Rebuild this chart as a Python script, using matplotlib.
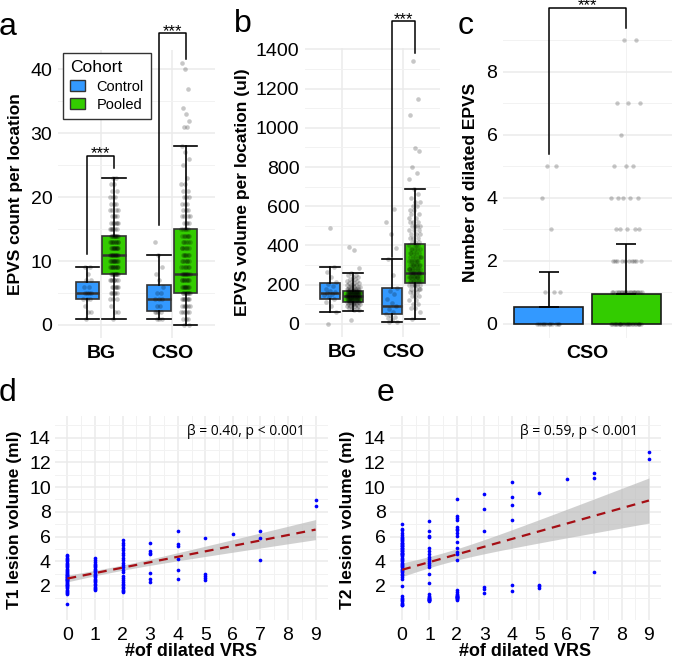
import numpy as np
import matplotlib.pyplot as plt
from matplotlib.patches import Patch

plt.rcParams['font.family'] = ['Liberation Sans', 'DejaVu Sans']

# ---------------- data ----------------
groups = ['BG', 'CSO']
cohorts = ['Control', 'Pooled']
col_ctrl = '#3399FF'
col_pool = '#33CC00'

# a: EPVS count per location  -- box stats [BG, CSO]
cnt_ctrl_whislo = [1, 1]
cnt_ctrl_q1 = [4, 2.25]
cnt_ctrl_med = [5, 4]
cnt_ctrl_q3 = [6.75, 6.25]
cnt_ctrl_whishi = [9, 11]
cnt_pool_whislo = [1, 0]
cnt_pool_q1 = [8, 5]
cnt_pool_med = [11, 8]
cnt_pool_q3 = [14, 15]
cnt_pool_whishi = [23, 28]

cnt_bg_ctrl = [1, 2, 2, 3, 4, 4, 4, 5, 5, 5, 5, 6, 6, 7, 7, 8, 9, 9]
cnt_bg_pool_vals = [1, 2, 3, 4, 5, 6, 7, 8, 9, 10, 11, 12, 13, 14, 15, 16, 17, 18, 19, 20, 21, 22, 23]
cnt_bg_pool_n = [1, 2, 1, 3, 5, 6, 7, 9, 10, 10, 10, 10, 9, 9, 6, 6, 4, 4, 3, 3, 2, 2, 2]
cnt_cso_ctrl = [1, 1, 1, 2, 2, 2, 2, 3, 3, 4, 4, 4, 5, 5, 6, 7, 8, 9, 11, 13]
cnt_cso_pool_vals = [0, 1, 2, 3, 4, 5, 6, 7, 8, 9, 10, 11, 12, 13, 14, 15, 16, 17, 18, 19, 20,
                     21, 22, 23, 25, 26, 27, 28, 31, 32, 33, 34, 37, 40, 41]
cnt_cso_pool_n = [2, 3, 5, 6, 7, 8, 9, 8, 8, 6, 6, 6, 6, 5, 6, 5, 4, 4, 3, 3, 3,
                  2, 2, 1, 1, 1, 1, 1, 2, 1, 1, 1, 1, 1, 1]

# b: EPVS volume per location (ul) -- box stats [BG, CSO]
vol_ctrl_whislo = [62, 8]
vol_ctrl_q1 = [128, 48]
vol_ctrl_med = [158, 92]
vol_ctrl_q3 = [210, 183]
vol_ctrl_whishi = [290, 333]
vol_pool_whislo = [67, 25]
vol_pool_q1 = [112, 210]
vol_pool_med = [140, 260]
vol_pool_q3 = [170, 405]
vol_pool_whishi = [260, 686]

vol_bg_ctrl = [0, 62, 90, 110, 128, 135, 145, 150, 158, 162, 170, 180, 195, 205, 215, 240, 262, 290, 490]
vol_bg_pool_vals = [20, 70, 80, 90, 100, 110, 120, 130, 140, 150, 160, 170, 180, 190, 200,
                    210, 220, 230, 240, 250, 260, 285, 375, 390]
vol_bg_pool_n = [1, 2, 3, 4, 6, 8, 11, 13, 14, 13, 11, 9, 7, 5, 4, 3, 3, 2, 2, 2, 1, 1, 1, 1]
vol_cso_ctrl = [8, 12, 20, 28, 35, 45, 50, 60, 75, 92, 105, 125, 150, 170, 183, 250, 333, 387, 460, 520, 585]
vol_cso_pool_vals = [25, 60, 80, 100, 120, 140, 160, 180, 200, 220, 240, 260, 280, 300, 320, 340,
                     360, 380, 400, 420, 440, 460, 480, 500, 520, 540, 560, 580, 600, 620, 640,
                     660, 686, 740, 770, 800, 880, 895, 1065, 1145, 1340]
vol_cso_pool_n = [1, 1, 2, 2, 2, 3, 3, 4, 6, 8, 10, 11, 9, 8, 7, 6, 5, 5, 4, 3, 3, 3,
                  3, 4, 3, 2, 2, 2, 2, 2, 1, 1, 1, 1, 1, 1, 1, 1, 1, 1, 1]

# c: number of dilated EPVS in CSO
dil_mean = [0.54, 0.95]
dil_sd = [1.11, 1.59]
dil_ctrl_vals = [0, 1, 3, 4, 5]
dil_ctrl_n = [12, 3, 1, 1, 2]
dil_pool_vals = [0, 1, 2, 3, 4, 5, 6, 7, 9]
dil_pool_n = [25, 20, 10, 5, 5, 3, 1, 3, 2]

# d/e: lesion volume vs # of dilated VRS
t1_by_vrs = {
    0: [0.52, 1.32, 1.4, 1.5, 1.6, 1.7, 1.8, 1.9, 2.0, 2.05, 2.1, 2.2, 2.25, 2.3, 2.4, 2.45, 2.5,
        2.55, 2.6, 2.65, 2.7, 2.75, 2.8, 2.85, 2.9, 3.0, 3.05, 3.1, 3.2, 3.3, 3.4, 3.5, 3.6,
        3.7, 3.8, 3.9, 4.0, 4.1, 4.2, 4.3, 4.4, 4.5],
    1: [1.67, 1.75, 1.85, 1.95, 2.05, 2.15, 2.3, 2.4, 2.5, 2.6, 2.7, 2.8, 2.9, 3.0, 3.1, 3.2,
        3.3, 3.4, 3.5, 3.6, 3.7, 3.8, 3.95, 4.1, 4.25],
    2: [1.5, 1.6, 1.7, 1.8, 1.95, 2.1, 2.2, 2.35, 2.5, 2.65, 2.8, 3.1, 3.3, 3.5, 3.7, 3.9, 4.1,
        4.3, 4.5, 4.7, 4.9, 5.1, 5.3, 5.5, 5.72],
    3: [2.33, 2.6, 3.05, 4.6, 4.7, 4.84, 5.5],
    4: [2.57, 3.32, 4.17, 5.24, 5.37, 6.44],
    5: [2.52, 2.65, 2.79, 2.97, 5.85],
    6: [6.23],
    7: [4.12, 5.85, 6.44],
    9: [8.49, 8.95],
}
t2_by_vrs = {
    0: [0.44, 0.5, 0.58, 0.66, 0.75, 0.85, 0.95, 1.05, 1.19, 2.04, 2.6, 2.75, 2.9, 3.0, 3.1,
        3.2, 3.3, 3.4, 3.5, 3.6, 3.7, 3.8, 3.9, 4.0, 4.1, 4.2, 4.3, 4.4, 4.5, 4.55, 4.6, 4.65,
        4.7, 4.8, 4.85, 4.9, 5.0, 5.05, 5.1, 5.2, 5.25, 5.3, 5.4, 5.45, 5.5, 5.6, 5.7, 5.8,
        5.9, 6.0, 6.1, 6.25, 6.5, 6.6, 7.05],
    1: [0.79, 0.84, 0.88, 0.9, 0.93, 0.97, 1.0, 1.05, 1.13, 1.2, 1.32, 2.25, 2.97, 3.53, 3.72,
        3.85, 3.99, 4.15, 4.33, 4.6, 4.84, 5.1, 5.96, 6.04, 6.44, 7.27],
    2: [0.84, 0.92, 1.0, 1.05, 1.08, 1.12, 1.15, 1.19, 1.22, 1.3, 1.37, 1.5, 1.64, 4.07, 4.6,
        4.73, 5.1, 5.53, 6.04, 6.3, 6.49, 6.65, 6.79, 7.3, 7.5, 7.67, 9.0],
    3: [1.45, 1.72, 1.9, 6.44, 8.23, 9.45],
    4: [1.61, 2.07, 7.37, 8.52, 9.16, 10.44],
    5: [1.85, 1.99, 2.12, 9.56],
    6: [10.65],
    7: [3.1, 10.76, 11.13],
    9: [12.28, 12.84],
}
t1_note = 'β = 0.40, p < 0.001'
t2_note = 'β = 0.59, p < 0.001'

# ---------------- helpers ----------------
W, H = 674, 666
fig = plt.figure(figsize=(W / 100, H / 100), dpi=100)
fig.patch.set_facecolor('white')


def px_axes(x0, y0, x1, y1):
    return fig.add_axes([x0 / W, 1 - y1 / H, (x1 - x0) / W, (y1 - y0) / H])


def minimal(ax, ymaj, ymin, xmaj, xmin=()):
    for s in ax.spines.values():
        s.set_visible(False)
    ax.set_yticks(ymaj)
    ax.set_yticks(ymin, minor=True)
    ax.set_xticks(xmaj)
    ax.set_xticks(xmin, minor=True)
    ax.tick_params(which='both', length=0, labelsize=14, colors='black')
    ax.grid(True, which='major', color='#EBEBEB', lw=1.1)
    ax.grid(True, which='minor', color='#F2F2F2', lw=0.7)
    ax.set_axisbelow(True)


def jitter(n, w):
    # deterministic spread (golden ratio sequence)
    return ((np.arange(n) * 0.6180339887 + 0.31) % 1 - 0.5) * 2 * w


def boxes(ax, pos, lo, q1, med, q3, hi, color, width):
    stats = [dict(whislo=a, q1=b, med=c, q3=d, whishi=e, fliers=[])
             for a, b, c, d, e in zip(lo, q1, med, q3, hi)]
    ax.bxp(stats, positions=pos, widths=width, capwidths=width, patch_artist=True,
           showfliers=False, manage_ticks=False,
           boxprops=dict(facecolor=color, edgecolor='#333333', lw=1.2),
           medianprops=dict(color='#333333', lw=1.8),
           whiskerprops=dict(color='black', lw=1.2),
           capprops=dict(color='black', lw=1.2), zorder=2)


def dots(ax, x, vals, w, s=11):
    vals = np.asarray(vals, float)
    ax.scatter(x + jitter(len(vals), w), vals, s=s, color='black', alpha=0.22,
               lw=0, zorder=3)


def bracket(ax, x1, x2, yl, yr, yt, txt='***'):
    ax.plot([x1, x1, x2, x2], [yl, yt, yt, yr], color='black', lw=1.1,
            clip_on=False, zorder=4)
    ax.annotate(txt, xy=((x1 + x2) / 2, yt), xytext=(0, -2), textcoords='offset points',
                ha='center', va='baseline', fontsize=12, annotation_clip=False)


dodge = 0.1875
bw = 0.33

# ---------------- panel a ----------------
ax = px_axes(58, 50, 215, 338)
minimal(ax, [0, 10, 20, 30, 40], [5, 15, 25, 35], [1, 2])
ax.set_xlim(0.4, 2.6)
ax.set_ylim(-2.05, 43.05)
xc = np.array([1, 2]) - dodge
xp = np.array([1, 2]) + dodge
boxes(ax, xc, cnt_ctrl_whislo, cnt_ctrl_q1, cnt_ctrl_med, cnt_ctrl_q3, cnt_ctrl_whishi, col_ctrl, bw)
boxes(ax, xp, cnt_pool_whislo, cnt_pool_q1, cnt_pool_med, cnt_pool_q3, cnt_pool_whishi, col_pool, bw)
dots(ax, xc[0], cnt_bg_ctrl, 0.06)
dots(ax, xp[0], np.repeat(cnt_bg_pool_vals, cnt_bg_pool_n), 0.06)
dots(ax, xc[1], cnt_cso_ctrl, 0.06)
dots(ax, xp[1], np.repeat(cnt_cso_pool_vals, cnt_cso_pool_n), 0.06)
bracket(ax, xc[0], xp[0], 11.1, 24.5, 26.5)
bracket(ax, xc[1], xp[1], 15.6, 41.6, 45.7)
ax.set_xticklabels(groups, fontsize=14, fontweight='bold')
ax.tick_params(axis='x', pad=5)
ax.tick_params(axis='y', pad=4)
ax.set_ylabel('EPVS count per location', fontsize=12.5, fontweight='bold')
ax.yaxis.set_label_coords(-0.223, 0.5)
leg = ax.legend(handles=[Patch(facecolor=col_ctrl, edgecolor='#333333', label=cohorts[0]),
                         Patch(facecolor=col_pool, edgecolor='#333333', label=cohorts[1])],
                title='Cohort', loc='upper left', bbox_to_anchor=(0.032, 0.99),
                borderaxespad=0, fontsize=10.5, title_fontsize=12.5, fancybox=False,
                framealpha=1, edgecolor='#333333', handlelength=1.0, handleheight=0.8,
                borderpad=0.5, labelspacing=0.3, handletextpad=0.8)
leg._legend_box.align = 'left'
leg.get_frame().set_linewidth(1.0)
fig.text(8 / W, 1 - 27 / H, 'a', fontsize=23, ha='center', va='center')

# ---------------- panel b ----------------
ax = px_axes(305, 48, 440, 337)
minimal(ax, np.arange(0, 1401, 200), np.arange(100, 1400, 200), [1, 2])
ax.set_xlim(0.4, 2.6)
ax.set_ylim(-67, 1407)
boxes(ax, xc, vol_ctrl_whislo, vol_ctrl_q1, vol_ctrl_med, vol_ctrl_q3, vol_ctrl_whishi, col_ctrl, bw)
boxes(ax, xp, vol_pool_whislo, vol_pool_q1, vol_pool_med, vol_pool_q3, vol_pool_whishi, col_pool, bw)
dots(ax, xc[0], vol_bg_ctrl, 0.1)
dots(ax, xp[0], np.repeat(vol_bg_pool_vals, vol_bg_pool_n), 0.11)
dots(ax, xc[1], vol_cso_ctrl, 0.1)
dots(ax, xp[1], np.repeat(vol_cso_pool_vals, vol_cso_pool_n), 0.1)
bracket(ax, xc[1], xp[1], 340, 1380, 1543)
ax.set_xticklabels(groups, fontsize=14, fontweight='bold')
ax.tick_params(axis='x', pad=5)
ax.tick_params(axis='y', pad=4)
ax.set_ylabel('EPVS volume per location (ul)', fontsize=12.5, fontweight='bold')
ax.yaxis.set_label_coords(-0.407, 0.5)
fig.text(243 / W, 1 - 24 / H, 'b', fontsize=23, ha='center', va='center')

# ---------------- panel c ----------------
ax = px_axes(503, 26, 672, 338)
cpos = np.array([1 - 0.275, 1 + 0.275])
minimal(ax, [0, 2, 4, 6, 8], [1, 3, 5, 7, 9], [1], cpos)
ax.grid(False, which='major', axis='x')
ax.set_xlim(0.4, 1.6)
ax.set_ylim(-0.45, 9.45)
ax.bar(cpos, dil_mean, width=0.49, color=[col_ctrl, col_pool], edgecolor='#1a1a1a',
       lw=1.2, zorder=2)
ax.errorbar(cpos, dil_mean, yerr=[[0, 0], dil_sd], fmt='none', ecolor='black',
            elinewidth=1.2, capsize=7.5, capthick=1.2, zorder=2)
dots(ax, cpos[0], np.repeat(dil_ctrl_vals, dil_ctrl_n), 0.085, s=10)
dots(ax, cpos[1], np.repeat(dil_pool_vals, dil_pool_n), 0.11, s=10)
bracket(ax, cpos[0], cpos[1], 5.4, 9.4, 10.03)
ax.set_xticklabels(['CSO'], fontsize=14, fontweight='bold')
ax.tick_params(axis='x', pad=5)
ax.tick_params(axis='y', pad=4)
ax.set_ylabel('Number of dilated EPVS', fontsize=12.5, fontweight='bold')
ax.yaxis.set_label_coords(-0.145, 0.5)
fig.text(466 / W, 1 - 26 / H, 'c', fontsize=23, ha='center', va='center')


# ---------------- panels d / e ----------------
def ols_band(x, y, xs):
    x = np.asarray(x, float)
    y = np.asarray(y, float)
    n = len(x)
    slope, icpt = np.polyfit(x, y, 1)
    resid = y - (icpt + slope * x)
    s2 = np.sum(resid ** 2) / (n - 2)
    sxx = np.sum((x - x.mean()) ** 2)
    se = np.sqrt(s2 * (1 / n + (xs - x.mean()) ** 2 / sxx))
    fit = icpt + slope * xs
    return fit, fit - 1.97 * se, fit + 1.97 * se


def scatter_panel(x0, x1, data, ylab, note, letter, lx, label_x):
    ax = px_axes(x0, 416, x1, 620)
    minimal(ax, np.arange(2, 15, 2), np.arange(1, 16, 2), np.arange(0, 10),
            np.arange(0.5, 9, 1))
    ax.set_xlim(-0.45, 9.45)
    ax.set_ylim(-0.75, 15.75)
    xs_all = np.concatenate([[k] * len(v) for k, v in data.items()])
    ys_all = np.concatenate([v for v in data.values()])
    xs = np.linspace(0, 9, 100)
    fit, lo, hi = ols_band(xs_all, ys_all, xs)
    ax.fill_between(xs, lo, hi, color='#BDBDBD', alpha=0.7, lw=0, zorder=2)
    ax.scatter(xs_all, ys_all, s=7, color='#0000FF', lw=0, zorder=3)
    ax.plot(xs, fit, color='#A50F15', lw=1.6, ls=(0, (4, 3)), zorder=4)
    ax.text(0.914, 0.925, note, transform=ax.transAxes, ha='right', va='center',
            fontsize=10, family=['Open Sans', 'DejaVu Sans'])
    ax.tick_params(axis='x', pad=5)
    ax.tick_params(axis='y', pad=3)
    ax.set_xlabel('#of dilated VRS', fontsize=13, fontweight='bold')
    ax.xaxis.set_label_coords(0.5, -0.113)
    ax.set_ylabel(ylab, fontsize=12.5, fontweight='bold')
    ax.yaxis.set_label_coords(label_x, 0.49)
    fig.text(lx / W, 1 - 393 / H, letter, fontsize=23, ha='center', va='center')
    return ax


scatter_panel(55, 328, t1_by_vrs, 'T1 lesion volume (ml)', t1_note, 'd', 8, -0.121)
scatter_panel(389.7, 661.3, t2_by_vrs, 'T2 lesion volume (ml)', t2_note, 'e', 386, -0.128)

fig.savefig('out.png', dpi=100)
